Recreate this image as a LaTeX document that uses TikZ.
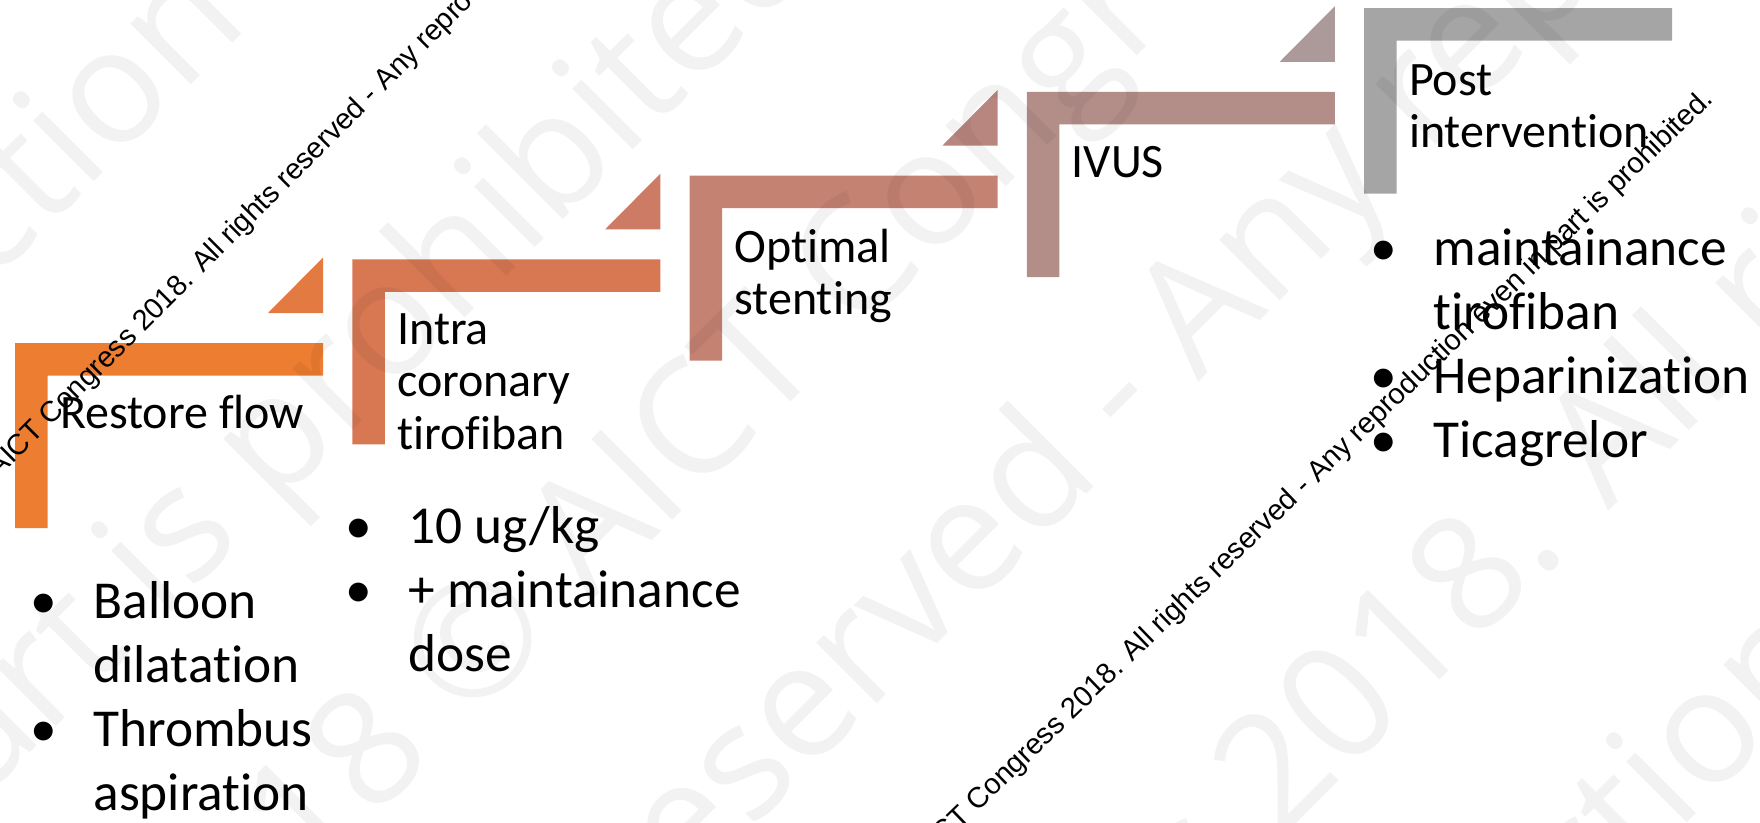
\documentclass[tikz,border=0pt]{standalone}
\usepackage{fontspec}
\setmainfont{Carlito}[Ligatures=CommonOff]
\newfontfamily\markfont{Liberation Sans}
\newfontfamily\bigmarkfont{Open Sans}
\usepackage{array}

\definecolor{stepone}{RGB}{237,125,49}
\definecolor{steptwo}{RGB}{215,120,83}
\definecolor{stepthree}{RGB}{196,130,115}
\definecolor{stepfour}{RGB}{179,142,136}
\definecolor{stepfive}{RGB}{165,165,165}
\definecolor{triangleone}{RGB}{226,122,66}
\definecolor{triangletwo}{RGB}{205,123,100}
\definecolor{trianglethree}{RGB}{185,134,127}
\definecolor{trianglefour}{RGB}{172,153,153}

\tikzset{every picture/.style={line width=0.75pt}}
\tikzset{
  steptitle/.style={anchor=base west, inner sep=0pt, font=\fontsize{36}{39.4}\selectfont},
  bulletlist/.style={anchor=base west, inner sep=0pt, font=\fontsize{40}{48}\selectfont},
  smallmark/.style={anchor=base west, inner sep=0pt, rotate=44, font=\markfont\fontsize{21.75}{26}\selectfont},
  bigmark/.style={anchor=base west, inner sep=0pt, rotate=45, text=black, text opacity=0.05, font=\bigmarkfont\fontsize{120}{140}\selectfont},
}
\newcommand{\titlelines}[1]{\begin{tabular}[t]{@{}l@{}}#1\end{tabular}}
\newcommand{\bulletlines}[1]{\begin{tabular}[t]{@{}p{47.25pt}@{}l@{}}#1\end{tabular}}

\begin{document}
\begin{tikzpicture}[x=0.75pt,y=0.75pt,yscale=-1,xscale=1]
    \useasboundingbox (0,0) rectangle (1760,822);
    \clip (0,0) rectangle (1760,822);

    %Shape: Step 1 
    \fill [stepone] (15,528) -- (15,343) -- (323,343) -- (323,375.5) -- (47.5,375.5) -- (47.5,528) -- cycle ;
    %Shape: Triangle 1 
    \fill [triangleone] (268,313) -- (323,313) -- (323,257.5) -- cycle ;
    %Shape: Step 2 
    \fill [steptwo] (352.25,444.25) -- (352.25,259.25) -- (660.25,259.25) -- (660.25,291.75) -- (384.75,291.75) -- (384.75,444.25) -- cycle ;
    %Shape: Triangle 2 
    \fill [triangletwo] (605.25,229.25) -- (660.25,229.25) -- (660.25,173.75) -- cycle ;
    %Shape: Step 3 
    \fill [stepthree] (689.5,360.5) -- (689.5,175.5) -- (997.5,175.5) -- (997.5,208) -- (722,208) -- (722,360.5) -- cycle ;
    %Shape: Triangle 3 
    \fill [trianglethree] (942.5,145.5) -- (997.5,145.5) -- (997.5,90) -- cycle ;
    %Shape: Step 4 
    \fill [stepfour] (1026.75,277) -- (1026.75,91.75) -- (1334.75,91.75) -- (1334.75,124.25) -- (1059.25,124.25) -- (1059.25,277) -- cycle ;
    %Shape: Triangle 4 
    \fill [trianglefour] (1279.75,61.75) -- (1334.75,61.75) -- (1334.75,6.25) -- cycle ;
    %Shape: Step 5 
    \fill [stepfive] (1364,193.5) -- (1364,8) -- (1672,8) -- (1672,40.5) -- (1396.5,40.5) -- (1396.5,193.5) -- cycle ;

    % Text Node
    \draw (59.5,428) node (restore) [steptitle] {Restore flow};
    % Text Node
    \draw (396.75,344) node (intra) [steptitle] {\titlelines{Intra\\coronary\\tirofiban}};
    % Text Node
    \draw (734,262) node (optimal) [steptitle] {\titlelines{Optimal\\stenting}};
    % Text Node
    \draw (1071.25,177) node (ivus) [steptitle] {IVUS};
    % Text Node
    \draw (1408.5,95) node (post) [steptitle] {\titlelines{Post\\intervention}};

    % Text Node
    \draw (30,618) node (restorelist) [bulletlist] {\bulletlines{\textbullet & Balloon\\ & dilatation\\ \textbullet & Thrombus\\ & aspiration}};
    % Text Node
    \draw (345,543) node (intralist) [bulletlist] {\bulletlines{\textbullet & 10 ug/kg\\ \textbullet & + maintainance\\ & dose}};
    % Text Node
    \draw (1370,265) node (postlist) [bulletlist] {\bulletlines{\textbullet & maintainance\\ & tirofiban\\ \textbullet & Heparinization\\ \textbullet & Ticagrelor}};

    % Watermark, large
    \draw (251,25) node (bigmarka) [bigmark, anchor=base east] {reproduction};
    \draw (-86,869) node (bigmarkb) [bigmark] {part is prohibited.};
    \draw (178,1015) node (bigmarkc) [bigmark] {2018 © AICT Congress};
    \draw (155,1426) node (bigmarkd) [bigmark] {All rights reserved - Any reproduction};
    \draw (764,1356) node (bigmarke) [bigmark] {Congress 2018. All rights reserved};
    \draw (1156,1354) node (bigmarkf) [bigmark] {reproduction};

    % Watermark, small
    \draw (-2,479) node (smallmarka) [smallmark, rotate=1] {AICT Congress 2018. All rights reserved - Any reproduction even in part is prohibited.};
    \draw (1715,100) node (smallmarkb) [smallmark, anchor=base east] {AICT Congress 2018. All rights reserved - Any reproduction even in part is prohibited.};

\end{tikzpicture}
\end{document}
